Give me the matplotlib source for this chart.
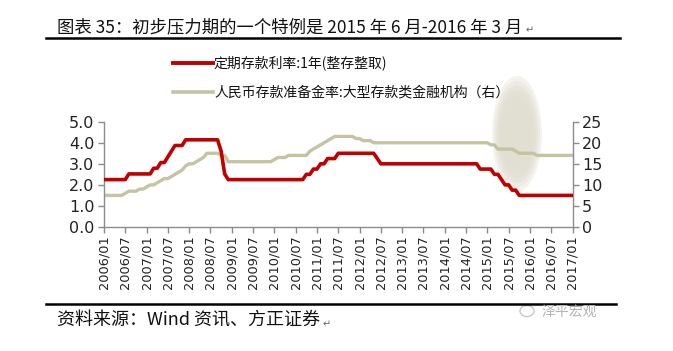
import matplotlib
matplotlib.use("Agg")
import matplotlib.pyplot as plt
from matplotlib.patches import Ellipse
from matplotlib.lines import Line2D

plt.rcParams['font.family'] = ['Noto Sans CJK SC', 'DejaVu Sans']

# ---------------- data (monthly, 2006/01 .. 2017/01) ----------------
deposit_rate = [
    2.25, 2.25, 2.25, 2.25, 2.25, 2.25, 2.25, 2.52, 2.52, 2.52, 2.52, 2.52,   # 2006
    2.52, 2.52, 2.79, 2.79, 3.06, 3.06, 3.33, 3.60, 3.87, 3.87, 3.87, 4.14,   # 2007
    4.14, 4.14, 4.14, 4.14, 4.14, 4.14, 4.14, 4.14, 4.14, 3.60, 2.52, 2.25,   # 2008
    2.25, 2.25, 2.25, 2.25, 2.25, 2.25, 2.25, 2.25, 2.25, 2.25, 2.25, 2.25,   # 2009
    2.25, 2.25, 2.25, 2.25, 2.25, 2.25, 2.25, 2.25, 2.25, 2.50, 2.50, 2.75,   # 2010
    2.75, 3.00, 3.00, 3.25, 3.25, 3.25, 3.50, 3.50, 3.50, 3.50, 3.50, 3.50,   # 2011
    3.50, 3.50, 3.50, 3.50, 3.50, 3.25, 3.00, 3.00, 3.00, 3.00, 3.00, 3.00,   # 2012
    3.00, 3.00, 3.00, 3.00, 3.00, 3.00, 3.00, 3.00, 3.00, 3.00, 3.00, 3.00,   # 2013
    3.00, 3.00, 3.00, 3.00, 3.00, 3.00, 3.00, 3.00, 3.00, 3.00, 2.75, 2.75,   # 2014
    2.75, 2.75, 2.50, 2.50, 2.25, 2.00, 2.00, 1.75, 1.75, 1.50, 1.50, 1.50,   # 2015
    1.50, 1.50, 1.50, 1.50, 1.50, 1.50, 1.50, 1.50, 1.50, 1.50, 1.50, 1.50,   # 2016
    1.50,                                                                     # 2017
]

reserve_ratio = [
    7.5, 7.5, 7.5, 7.5, 7.5, 7.5, 8.0, 8.5, 8.5, 8.5, 9.0, 9.0,               # 2006
    9.5, 10.0, 10.0, 10.5, 11.0, 11.5, 11.5, 12.0, 12.5, 13.0, 13.5, 14.5,    # 2007
    15.0, 15.0, 15.5, 16.0, 16.5, 17.5, 17.5, 17.5, 17.5, 17.0, 17.0, 15.5,   # 2008
    15.5, 15.5, 15.5, 15.5, 15.5, 15.5, 15.5, 15.5, 15.5, 15.5, 15.5, 15.5,   # 2009
    16.0, 16.5, 16.5, 16.5, 17.0, 17.0, 17.0, 17.0, 17.0, 17.0, 18.0, 18.5,   # 2010
    19.0, 19.5, 20.0, 20.5, 21.0, 21.5, 21.5, 21.5, 21.5, 21.5, 21.5, 21.0,   # 2011
    21.0, 20.5, 20.5, 20.5, 20.0, 20.0, 20.0, 20.0, 20.0, 20.0, 20.0, 20.0,   # 2012
    20.0, 20.0, 20.0, 20.0, 20.0, 20.0, 20.0, 20.0, 20.0, 20.0, 20.0, 20.0,   # 2013
    20.0, 20.0, 20.0, 20.0, 20.0, 20.0, 20.0, 20.0, 20.0, 20.0, 20.0, 20.0,   # 2014
    20.0, 19.5, 19.5, 18.5, 18.5, 18.5, 18.5, 18.5, 18.0, 17.5, 17.5, 17.5,   # 2015
    17.5, 17.5, 17.0, 17.0, 17.0, 17.0, 17.0, 17.0, 17.0, 17.0, 17.0, 17.0,   # 2016
    17.0,                                                                     # 2017
]

tick_labels = ['2006/01', '2006/07', '2007/01', '2007/07', '2008/01', '2008/07',
               '2009/01', '2009/07', '2010/01', '2010/07', '2011/01', '2011/07',
               '2012/01', '2012/07', '2013/01', '2013/07', '2014/01', '2014/07',
               '2015/01', '2015/07', '2016/01', '2016/07', '2017/01']

left_ticks = [0.0, 1.0, 2.0, 3.0, 4.0, 5.0]
right_ticks = [0, 5, 10, 15, 20, 25]

series1_name = '定期存款利率:1年(整存整取)'
series2_name = '人民币存款准备金率:大型存款类金融机构（右）'
title_text = '图表 35：初步压力期的一个特例是 2015 年 6 月-2016 年 3 月'
source_text = '资料来源：Wind 资讯、方正证券'

# ---------------- figure ----------------
W, H = 673, 351
fig = plt.figure(figsize=(W / 100, H / 100), dpi=100)

def fx(px):
    return px / W

def fy(py):
    return 1 - py / H

RED = '#C00000'
TAN = '#C4C4A2'
SPINE = '#8C8C8C'

# background overlay axes in pixel coordinates (y downwards)
bg = fig.add_axes([0, 0, 1, 1], zorder=0)
bg.set_xlim(0, W)
bg.set_ylim(H, 0)
bg.axis('off')

# highlight ellipse
for k, a in zip([1.0, 0.92, 0.84, 0.76, 0.66], [0.35, 0.35, 0.4, 0.45, 0.5]):
    bg.add_patch(Ellipse((517, 134), 50 * k, 116 * k, facecolor='#E0DED0',
                         edgecolor='none', alpha=a))

ax = fig.add_axes([fx(104), fy(227), fx(572.5) - fx(104), fy(121.7) - fy(227)], zorder=2)
ax2 = ax.twinx()

x = list(range(len(deposit_rate)))
ax2.plot(x, reserve_ratio, color=TAN, lw=2.4, solid_joinstyle='round', zorder=2)
ax.plot(x, deposit_rate, color=RED, lw=2.6, solid_joinstyle='round', zorder=3)
ax.set_zorder(ax2.get_zorder() + 1)
ax.patch.set_visible(False)
ax2.patch.set_visible(False)

ax.set_xlim(0, len(deposit_rate) - 1)
ax.set_ylim(0, 5)
ax2.set_ylim(0, 25)

ax.set_xticks(list(range(0, len(deposit_rate), 6)))
ax.set_xticklabels(tick_labels, rotation=90, fontsize=9.3, color='#222222',
                   family='DejaVu Sans')
ax.set_yticks(left_ticks)
ax.set_yticklabels([f'{v:.1f}' for v in left_ticks], fontsize=11.5,
                   color='#222222', family='DejaVu Sans')
ax2.set_yticks(right_ticks)
ax2.set_yticklabels([str(v) for v in right_ticks], fontsize=11.5,
                    color='#222222', family='DejaVu Sans')

for a in (ax, ax2):
    a.spines['top'].set_visible(False)
    for s in ('left', 'right', 'bottom'):
        a.spines[s].set_color(SPINE)
        a.spines[s].set_linewidth(1.0)
    a.tick_params(axis='both', direction='out', length=4, width=1.0, color=SPINE)
ax.spines['right'].set_visible(False)
ax2.spines['left'].set_visible(False)
ax2.spines['bottom'].set_visible(False)
ax.tick_params(axis='y', pad=3)
ax.tick_params(axis='x', pad=2)
ax2.tick_params(axis='y', pad=3)

# legend (manual, in pixel coordinates)
bg.add_line(Line2D([173, 213], [63, 63], color=RED, lw=2.8))
bg.add_line(Line2D([173, 213], [92, 92], color=TAN, lw=2.6))
bg.text(214, 63, series1_name, fontsize=10, va='center', ha='left', color='#111111')
bg.text(214, 92, series2_name, fontsize=10, va='center', ha='left', color='#111111')

# title, rules, source
t1 = bg.text(57, 27, title_text, fontsize=12.5, va='center', ha='left', color='#111111')
bg.add_line(Line2D([46, 620], [38, 38], color='black', lw=1.8))
bg.add_line(Line2D([46, 616], [304, 304], color='black', lw=1.8))
t2 = bg.text(57, 321, source_text, fontsize=13, va='center', ha='left', color='#111111')

fig.canvas.draw()
renderer = fig.canvas.get_renderer()
inv = bg.transData.inverted()
for t, yy in ((t1, 30), (t2, 324)):
    bb = t.get_window_extent(renderer)
    xr = inv.transform((bb.x1, bb.y0))[0]
    bg.text(xr + 3, yy, '↵', fontsize=7, va='center', ha='left', color='#666666',
            family='DejaVu Sans')

# watermark
bg.add_patch(Ellipse((527, 311), 14, 11, facecolor='none', edgecolor='#C8C8C8', lw=1))
bg.text(542, 312, '泽平宏观', fontsize=10, va='center', ha='left', color='#B4B4B4')

fig.savefig('out.png', dpi=100)
